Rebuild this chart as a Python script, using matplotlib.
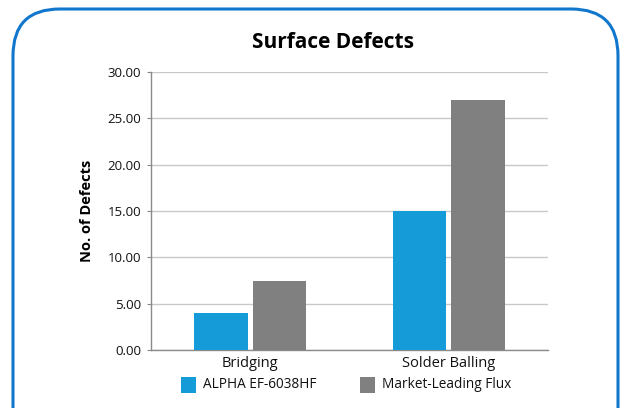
import matplotlib.pyplot as plt
import numpy as np
from matplotlib.patches import FancyBboxPatch, Rectangle

plt.rcParams['font.family'] = ['Open Sans', 'DejaVu Sans']

categories = ["Bridging", "Solder Balling"]
series_names = ["ALPHA EF-6038HF", "Market-Leading Flux"]
alpha_vals = [4.0, 15.0]
market_vals = [7.5, 27.0]
yticks = [0, 5, 10, 15, 20, 25, 30]

blue = "#159bd7"
gray = "#808080"
text_color = "#111111"

fig = plt.figure(figsize=(6.24, 4.08), dpi=100)

# rounded frame around the whole chart, running off the bottom edge
frame = FancyBboxPatch((13 / 624, -0.2), 605 / 624, (408 - 9) / 408 + 0.2,
                       boxstyle="round,pad=0,rounding_size=0.075",
                       transform=fig.transFigure, fill=False,
                       edgecolor="#1177cc", linewidth=2.2, mutation_aspect=624 / 408)
fig.patches.append(frame)

ax = fig.add_axes([151 / 624, 1 - 350 / 408, 397 / 624, 278 / 408])

x = np.arange(len(categories))
w = 0.27
off = 0.148
ax.bar(x - off, alpha_vals, width=w, color=blue, zorder=3)
ax.bar(x + off, market_vals, width=w, color=gray, zorder=3)

ax.set_xlim(-0.5, 1.5)
ax.set_ylim(0, 30)
ax.set_yticks(yticks)
ax.set_yticklabels([f"{v:.2f}" for v in yticks], fontsize=9.5, color=text_color)
ax.set_xticks(x)
ax.set_xticklabels(categories, fontsize=10.5, color=text_color)
ax.tick_params(axis="x", length=0, pad=4)
ax.tick_params(axis="y", length=3, width=0.8, color="#888888", pad=4)
ax.grid(axis="y", color="#c8c8c8", linewidth=1, zorder=0)

for side in ("top", "right"):
    ax.spines[side].set_visible(False)
for side in ("left", "bottom"):
    ax.spines[side].set_color("#8a8a8a")
    ax.spines[side].set_linewidth(1)

ax.set_ylabel("No. of Defects", fontsize=10.5, fontweight="bold", labelpad=10)

fig.text(333 / 624, 1 - 42 / 408, "Surface Defects", ha="center", va="center",
         fontsize=15, fontweight="bold")

# legend drawn by hand in figure coordinates
legend_y = 1 - 385 / 408
for px, color, name in [(181, blue, series_names[0]), (360, gray, series_names[1])]:
    fig.patches.append(Rectangle((px / 624, legend_y - 8 / 408), 15 / 624, 16 / 408,
                                 transform=fig.transFigure, facecolor=color,
                                 edgecolor="none"))
    fig.text((px + 22) / 624, legend_y, name, ha="left", va="center",
             fontsize=9.8, color=text_color)

fig.savefig("out.png", dpi=100)
